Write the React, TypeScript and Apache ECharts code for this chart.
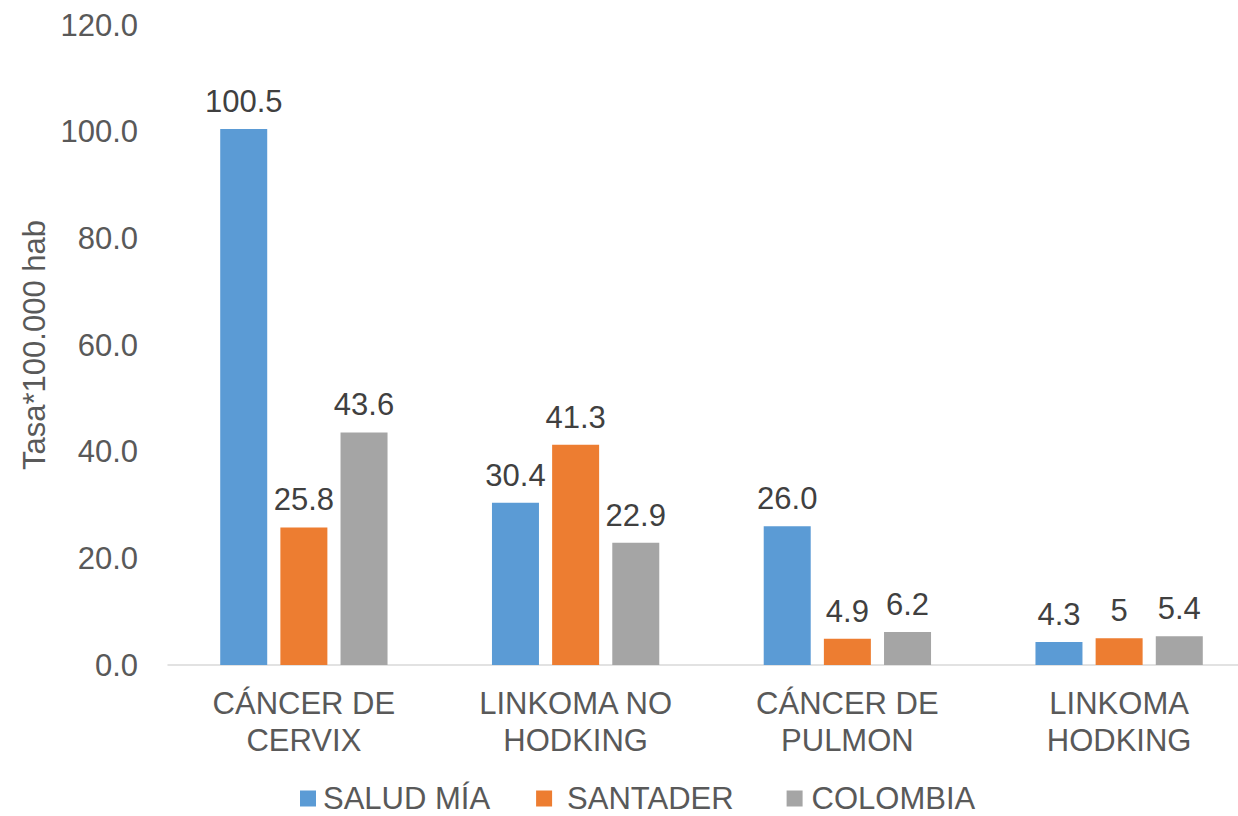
import React, { useEffect, useRef } from "react";
import * as echarts from "echarts";

const categories = ["CÁNCER DE\nCERVIX", "LINKOMA NO\nHODKING", "CÁNCER DE\nPULMON", "LINKOMA\nHODKING"];
const saludMia = [100.5, 30.4, 26.0, 4.3];
const santander = [25.8, 41.3, 4.9, 5];
const colombia = [43.6, 22.9, 6.2, 5.4];
const seriesNames = ["SALUD MÍA", "SANTADER", "COLOMBIA"];
const colors = ["#5B9BD5", "#ED7D31", "#A5A5A5"];

const FONT = "Liberation Sans, Arial, sans-serif";

export default function App() {
  const ref = useRef<HTMLDivElement>(null);
  useEffect(() => {
    if (!ref.current) return;
    const chart = echarts.init(ref.current, undefined, { renderer: "svg" });
    const mkLabel = (fmt: (v: number) => string) => ({
      show: true,
      position: "top",
      distance: 12,
      color: "#404040",
      fontSize: 31,
      fontFamily: FONT,
      formatter: (p: any) => fmt(p.value as number),
    });
    const fmts = [(v: number) => v.toFixed(1), (v: number) => String(v), (v: number) => v.toFixed(1)];
    const datas = [saludMia, santander, colombia];
    const legendPads = [
      [0, 0, 0, 2],
      [0, 7, 0, 10],
      [0, 0, 0, 4],
    ];
    chart.setOption({
      animation: false,
      color: colors,
      textStyle: { fontFamily: FONT },
      grid: { left: 168, top: 25, width: 1087, height: 640 },
      legend: {
        left: 300,
        top: 783,
        padding: 0,
        itemWidth: 16,
        itemHeight: 16,
        itemGap: 46,
        icon: "rect",
        textStyle: { fontSize: 31, lineHeight: 31, color: "#595959", fontFamily: FONT },
        data: seriesNames.map((n, i) => ({
          name: n,
          textStyle: { padding: legendPads[i] },
        })),
      },
      xAxis: {
        type: "category",
        data: categories,
        axisLine: { lineStyle: { color: "#D9D9D9", width: 1.5 } },
        axisTick: { show: false },
        axisLabel: { color: "#595959", fontSize: 31, fontFamily: FONT, margin: 20, lineHeight: 37 },
      },
      yAxis: {
        type: "value",
        min: 0,
        max: 120,
        interval: 20,
        name: "Tasa*100.000 hab",
        nameLocation: "middle",
        nameGap: 114,
        nameTextStyle: { color: "#595959", fontSize: 31, fontFamily: FONT },
        axisLine: { show: false },
        axisTick: { show: false },
        splitLine: { show: false },
        axisLabel: {
          color: "#595959",
          fontSize: 31,
          fontFamily: FONT,
          margin: 30,
          formatter: (v: number) => v.toFixed(1),
        },
      },
      series: seriesNames.map((n, i) => ({
        name: n,
        type: "bar",
        data: datas[i],
        barWidth: 47,
        barGap: "28%",
        itemStyle: { color: colors[i] },
        label: mkLabel(fmts[i]),
      })),
    });
    return () => chart.dispose();
  }, []);
  return (
    <div style={{ position: "fixed", left: 0, top: 0, width: 1238, height: 816, overflow: "hidden", background: "#fff" }}>
      <div ref={ref} style={{ width: 1270, height: 816 }} />
    </div>
  );
}
